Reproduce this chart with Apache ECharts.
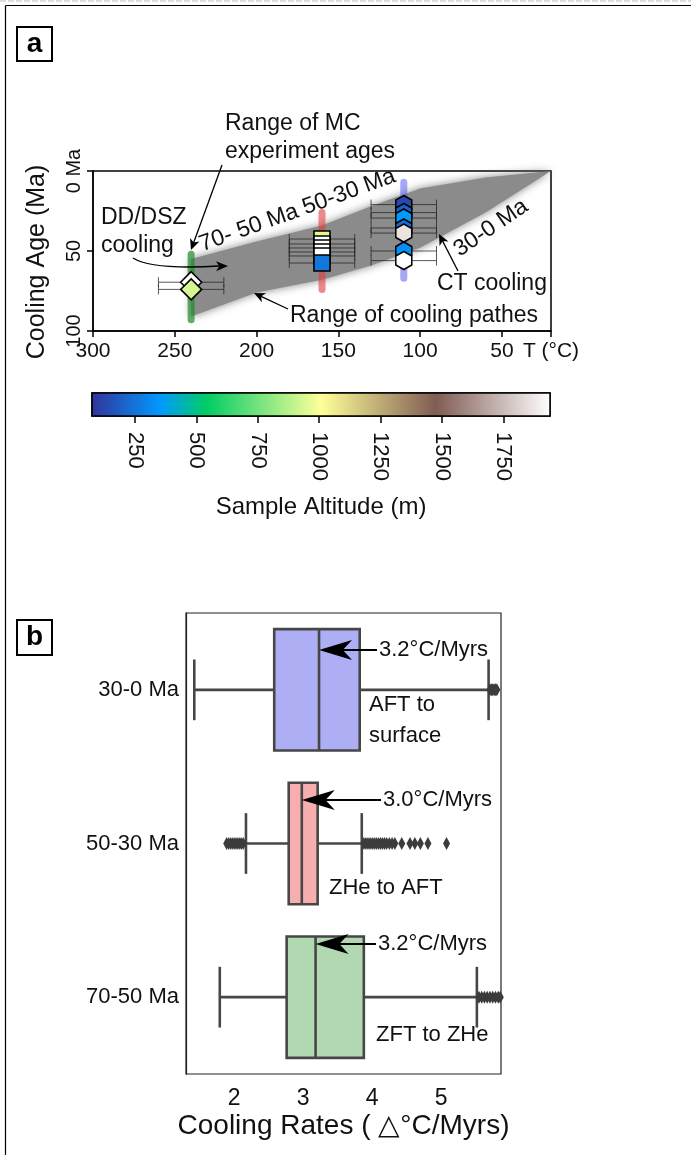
<!DOCTYPE html>
<html>
<head>
<meta charset="utf-8">
<script src="https://cdn.jsdelivr.net/npm/echarts@6/dist/echarts.min.js"></script>
<style>
  html, body { margin: 0; padding: 0; background: #fff; }
  #chart { width: 691px; height: 1155px; }
</style>
</head>
<body>
<div id="chart"></div>
<script>
// ---- panel a: range of cooling paths (T in °C, age in Ma)
const bandT = [240, 200, 160, 130, 100, 60, 20]
const bandUpper = [55, 44, 34, 22, 11, 4, 0]
const bandLower = [91, 76, 68, 59, 48, 26, 0]

// range of MC experiment ages
const mcT = [240, 160, 110]
const mcMin = [52, 26, 7]
const mcMax = [93, 74, 67]

// samples (T, cooling age, altitude)
const tErr = 20
const ddT = 240
const ddAge = [69.5, 74]
const ddAlt = [1940, 930]
const zheT = 160
const zheAge = [42.5, 45.6, 48.1, 50.6, 53.1, 57.5]
const zheAlt = [950, 1940, 1940, 1940, 1940, 262]
const aftT = 110
const aftAge = [21, 26, 29.4, 35.6, 38.8, 50, 56]
const aftAlt = [130, 200, 360, 230, 1860, 330, 1940]

const tempTicks = [20, 50, 100, 150, 200, 250, 300]
const ageTicks = [0, 50, 100]

// colour bar
const altRange = [75, 1940]
const altTicks = [250, 500, 750, 1000, 1250, 1500, 1750]

// ---- panel b: cooling rates
const periods = ['30-0 Ma', '50-30 Ma', '70-50 Ma']
const boxLow = [1.42, 2.17, 1.79]
const boxQ1 = [2.58, 2.79, 2.76]
const boxMed = [3.23, 2.98, 3.18]
const boxQ3 = [3.82, 3.21, 3.88]
const boxHigh = [5.69, 3.85, 5.52]
const outliers1 = [5.71, 5.73, 5.75, 5.77, 5.79, 5.81]
const outliers2 = [1.89, 1.92, 1.95, 1.98, 2.01, 2.04, 2.07, 2.10, 2.13, 3.88, 3.91, 3.94, 3.97,
  4.00, 4.03, 4.06, 4.09, 4.12, 4.15, 4.18, 4.21, 4.25, 4.29, 4.33, 4.43, 4.55, 4.62, 4.70, 4.81, 5.08]
const outliers3 = [5.55, 5.59, 5.63, 5.67, 5.71, 5.75, 5.79, 5.83, 5.86]
const rateTicks = [2, 3, 4, 5]

const boxColors = ['#aeaef4', '#f7aeae', '#b2d8b2']
const mcColors = ['rgba(30,140,40,0.7)', 'rgba(225,60,60,0.6)', 'rgba(80,80,240,0.5)']
const FONT = 'Liberation Sans, Arial, sans-serif'

// matplotlib "terrain" colormap
const terrainStops = [[0, [51, 51, 153]], [0.15, [0, 153, 255]], [0.25, [0, 204, 102]],
  [0.5, [255, 255, 153]], [0.75, [128, 92, 84]], [1, [255, 255, 255]]]

function terrain(alt) {
  let t = (alt - altRange[0]) / (altRange[1] - altRange[0])
  t = Math.max(0, Math.min(1, t))
  for (let i = 1; i < terrainStops.length; i++) {
    const [t0, c0] = terrainStops[i - 1]
    const [t1, c1] = terrainStops[i]
    if (t <= t1) {
      const f = (t - t0) / (t1 - t0)
      return 'rgb(' + c0.map((c, k) => Math.round(c + (c1[k] - c) * f)).join(',') + ')'
    }
  }
  return '#fff'
}

const hexPath = 'path://M0,-10L8.66,-5L8.66,5L0,10L-8.66,5L-8.66,-5Z'

const errData = []
ddAge.forEach(a => errData.push([ddT, a]))
zheAge.forEach(a => errData.push([zheT, a]))
aftAge.forEach(a => errData.push([aftT, a]))

const outlierData = []
;[outliers1, outliers2, outliers3].forEach((arr, i) => arr.forEach(v => outlierData.push([v, i])))

const chart = echarts.init(document.getElementById('chart'))

const option = {
  animation: false,
  textStyle: { fontFamily: FONT, color: '#111' },
  grid: [
    { left: 93, top: 171, width: 458, height: 160, show: true, borderColor: '#000', borderWidth: 1.5 },
    { left: 92, top: 393, width: 458, height: 23, show: true, borderColor: '#000', borderWidth: 1.5 },
    { left: 186, top: 613, width: 315, height: 461, show: true, borderColor: '#222', borderWidth: 1.2 }
  ],
  xAxis: [
    {
      gridIndex: 0, type: 'value', min: 20, max: 300, inverse: true,
      axisLine: { onZero: false, lineStyle: { color: '#000', width: 1.5 } },
      axisTick: { length: 6, customValues: tempTicks, lineStyle: { color: '#000', width: 1.5 } },
      axisLabel: { customValues: tempTicks, fontSize: 21, color: '#111', margin: 10,
        formatter: v => (v === 20 ? 'T (°C)' : String(v)) },
      splitLine: { show: false }
    },
    {
      gridIndex: 1, type: 'value', min: altRange[0], max: altRange[1],
      axisLine: { show: false },
      axisTick: { length: 7, customValues: altTicks, lineStyle: { color: '#000', width: 1.5 } },
      axisLabel: { customValues: altTicks, rotate: -90, fontSize: 22, color: '#111', margin: 16,
        formatter: v => String(v) },
      splitLine: { show: false },
      name: 'Sample Altitude (m)', nameLocation: 'middle', nameGap: 79,
      nameTextStyle: { fontSize: 24, color: '#111' }
    },
    {
      gridIndex: 2, type: 'value', min: 1.3, max: 5.87,
      axisLine: { onZero: false, lineStyle: { color: '#222', width: 1.2 } },
      axisTick: { length: 6, customValues: rateTicks, lineStyle: { color: '#222', width: 1.2 } },
      axisLabel: { customValues: rateTicks, fontSize: 23, color: '#111', margin: 13,
        formatter: v => String(v) },
      splitLine: { show: false },
      name: 'Cooling Rates ( △°C/Myrs)', nameLocation: 'middle', nameGap: 38,
      nameTextStyle: { fontSize: 28, color: '#111' }
    }
  ],
  yAxis: [
    {
      gridIndex: 0, type: 'value', min: 0, max: 100, inverse: true,
      axisLine: { onZero: false, lineStyle: { color: '#000', width: 1.5 } },
      axisTick: { length: 6, customValues: ageTicks, lineStyle: { color: '#000', width: 1.5 } },
      axisLabel: { customValues: ageTicks, rotate: 90, fontSize: 20, color: '#111', margin: 9,
        formatter: v => (v === 0 ? '0 Ma' : String(v)) },
      splitLine: { show: false },
      name: 'Cooling Age (Ma)', nameLocation: 'middle', nameGap: 43,
      nameTextStyle: { fontSize: 25, color: '#111', padding: [0, 22, 0, 0] }
    },
    { gridIndex: 1, type: 'value', min: 0, max: 1, show: false },
    {
      gridIndex: 2, type: 'category', data: periods, inverse: true,
      axisLine: { lineStyle: { color: '#222', width: 1.2 } },
      axisTick: { show: false },
      axisLabel: { fontSize: 22, color: '#111', margin: 7 }
    }
  ],
  series: [
    { // range of cooling paths
      type: 'custom', xAxisIndex: 0, yAxisIndex: 0, z: 1,
      encode: { x: 0, y: [1, 2] },
      data: bandT.map((t, i) => [t, bandUpper[i], bandLower[i]]),
      renderItem: function (params, api) {
        if (params.dataIndex !== 0) return null
        const up = bandT.map((t, i) => api.coord([t, bandUpper[i]]))
        const lo = bandT.map((t, i) => api.coord([t, bandLower[i]])).reverse()
        return {
          type: 'polygon',
          shape: { points: up.concat(lo) },
          style: { fill: '#8b8b8b', shadowBlur: 9, shadowColor: 'rgba(120,120,120,0.9)' }
        }
      }
    },
    { // MC experiment age ranges
      type: 'custom', xAxisIndex: 0, yAxisIndex: 0, z: 2,
      encode: { x: 0, y: [1, 2] },
      data: mcT.map((t, i) => [t, mcMin[i], mcMax[i]]),
      renderItem: function (params, api) {
        const a = api.coord([api.value(0), api.value(1)])
        const b = api.coord([api.value(0), api.value(2)])
        return {
          type: 'line',
          shape: { x1: a[0], y1: a[1], x2: b[0], y2: b[1] },
          style: { stroke: mcColors[params.dataIndex], lineWidth: 7, lineCap: 'round' }
        }
      }
    },
    { // temperature error bars
      type: 'custom', xAxisIndex: 0, yAxisIndex: 0, z: 3,
      encode: { x: 0, y: 1 },
      data: errData,
      renderItem: function (params, api) {
        const a = api.coord([api.value(0) + tErr, api.value(1)])
        const b = api.coord([api.value(0) - tErr, api.value(1)])
        const st = { stroke: 'rgba(35,35,35,0.75)', lineWidth: 1 }
        return {
          type: 'group',
          children: [
            { type: 'line', shape: { x1: a[0], y1: a[1], x2: b[0], y2: b[1] }, style: st },
            { type: 'line', shape: { x1: a[0], y1: a[1] - 5, x2: a[0], y2: a[1] + 5 }, style: st },
            { type: 'line', shape: { x1: b[0], y1: b[1] - 5, x2: b[0], y2: b[1] + 5 }, style: st }
          ]
        }
      }
    },
    {
      type: 'scatter', xAxisIndex: 0, yAxisIndex: 0, z: 4,
      symbol: 'diamond', symbolSize: 21,
      data: ddAge.map((a, i) => [ddT, a, ddAlt[i]]),
      itemStyle: { color: p => terrain(p.value[2]), borderColor: '#000', borderWidth: 1.6, opacity: 1 }
    },
    {
      type: 'scatter', xAxisIndex: 0, yAxisIndex: 0, z: 4,
      symbol: 'rect', symbolSize: 16,
      data: zheAge.map((a, i) => [zheT, a, zheAlt[i]]),
      itemStyle: { color: p => terrain(p.value[2]), borderColor: '#000', borderWidth: 1.6, opacity: 1 }
    },
    {
      type: 'scatter', xAxisIndex: 0, yAxisIndex: 0, z: 4,
      symbol: hexPath, symbolSize: [16, 18],
      data: aftAge.map((a, i) => [aftT, a, aftAlt[i]]),
      itemStyle: { color: p => terrain(p.value[2]), borderColor: '#000', borderWidth: 1.6, opacity: 1 }
    },
    { // colour bar
      type: 'custom', xAxisIndex: 1, yAxisIndex: 1,
      encode: { x: [0, 1] },
      data: [[altRange[0], altRange[1]]],
      renderItem: function (params, api) {
        const a = api.coord([api.value(0), 0])
        const b = api.coord([api.value(1), 1])
        return {
          type: 'rect',
          shape: { x: a[0], y: b[1], width: b[0] - a[0], height: a[1] - b[1] },
          style: {
            fill: new echarts.graphic.LinearGradient(0, 0, 1, 0,
              terrainStops.map(s => ({ offset: s[0], color: 'rgb(' + s[1].join(',') + ')' }))),
            stroke: '#000', lineWidth: 1.5
          }
        }
      }
    },
    { // box plots
      type: 'custom', xAxisIndex: 2, yAxisIndex: 2, z: 2,
      encode: { x: [1, 2, 3, 4, 5], y: 0 },
      data: periods.map((p, i) => [i, boxLow[i], boxQ1[i], boxMed[i], boxQ3[i], boxHigh[i]]),
      renderItem: function (params, api) {
        const cat = api.value(0)
        const yc = api.coord([api.value(3), cat])[1]
        const h = api.size([0, 1])[1] * 0.79
        const x = k => api.coord([api.value(k), cat])[0]
        const lo = x(1), q1 = x(2), md = x(3), q3 = x(4), hi = x(5)
        const st = { stroke: '#464646', lineWidth: 2.6 }
        return {
          type: 'group',
          children: [
            { type: 'line', shape: { x1: lo, y1: yc, x2: q1, y2: yc }, style: st },
            { type: 'line', shape: { x1: q3, y1: yc, x2: hi, y2: yc }, style: st },
            { type: 'line', shape: { x1: lo, y1: yc - h / 4, x2: lo, y2: yc + h / 4 }, style: st },
            { type: 'line', shape: { x1: hi, y1: yc - h / 4, x2: hi, y2: yc + h / 4 }, style: st },
            { type: 'rect', shape: { x: q1, y: yc - h / 2, width: q3 - q1, height: h },
              style: { fill: boxColors[params.dataIndex], stroke: '#464646', lineWidth: 2.6 } },
            { type: 'line', shape: { x1: md, y1: yc - h / 2, x2: md, y2: yc + h / 2 }, style: st }
          ]
        }
      }
    },
    {
      type: 'scatter', xAxisIndex: 2, yAxisIndex: 2, z: 3,
      symbol: 'diamond', symbolSize: [7, 13],
      data: outlierData,
      itemStyle: { color: '#3c3c3c', opacity: 1 }
    }
  ]
}

chart.setOption(option)

// ---- annotations
function txt(x, y, text, size, extra) {
  return Object.assign({
    type: 'text', x: x, y: y, z: 100,
    style: { text: text, font: size + 'px ' + FONT, fill: '#111', align: 'left', verticalAlign: 'middle' }
  }, extra || {})
}

function rtxt(x, y, text, rot) {
  return {
    type: 'text', x: x, y: y, z: 100, rotation: rot,
    style: { text: text, font: '23px ' + FONT, fill: '#111', align: 'center', verticalAlign: 'middle' }
  }
}

function head(tx, ty, fx, fy, len, hw) {
  const L = Math.hypot(tx - fx, ty - fy)
  const ux = (tx - fx) / L, uy = (ty - fy) / L
  const bx = tx - ux * len, by = ty - uy * len
  const nx = -uy, ny = ux
  return {
    type: 'polygon', z: 100,
    shape: { points: [[tx, ty], [bx + nx * hw, by + ny * hw], [tx - ux * len * 0.72, ty - uy * len * 0.72], [bx - nx * hw, by - ny * hw]] },
    style: { fill: '#000' }
  }
}

function arrow(x1, y1, x2, y2, len, hw, lw) {
  const L = Math.hypot(x2 - x1, y2 - y1)
  const ux = (x2 - x1) / L, uy = (y2 - y1) / L
  return [
    { type: 'line', z: 100, shape: { x1: x1, y1: y1, x2: x2 - ux * len * 0.6, y2: y2 - uy * len * 0.6 },
      style: { stroke: '#000', lineWidth: lw } },
    head(x2, y2, x1, y1, len, hw)
  ]
}

const medX = i => chart.convertToPixel({ gridIndex: 2 }, [boxMed[i], i])[0]

const elements = [
  // frame
  { type: 'line', shape: { x1: 5.5, y1: 5.5, x2: 691, y2: 5.5 }, style: { stroke: '#000', lineWidth: 1.2 } },
  { type: 'line', shape: { x1: 5.5, y1: 5.5, x2: 5.5, y2: 1155 }, style: { stroke: '#000', lineWidth: 1.2 } },
  { type: 'line', shape: { x1: 0, y1: 1, x2: 691, y2: 1 }, style: { stroke: '#bbb', lineWidth: 1, lineDash: [6, 2] } },
  // panel letters
  { type: 'rect', shape: { x: 17, y: 27, width: 35, height: 34 }, style: { fill: '#fff', stroke: '#000', lineWidth: 2 } },
  { type: 'text', x: 34.5, y: 44, z: 100, style: { text: 'a', font: 'bold 28px ' + FONT, fill: '#000', align: 'center', verticalAlign: 'middle' } },
  { type: 'rect', shape: { x: 17, y: 620, width: 35, height: 35 }, style: { fill: '#fff', stroke: '#000', lineWidth: 2 } },
  { type: 'text', x: 34.5, y: 637, z: 100, style: { text: 'b', font: 'bold 28px ' + FONT, fill: '#000', align: 'center', verticalAlign: 'middle' } },

  // panel a
  txt(225, 124, 'Range of MC', 23),
  txt(225, 152, 'experiment ages', 23),
  ...arrow(222, 165, 191, 250, 11, 5, 1.3),
  txt(101, 218, 'DD/DSZ', 23),
  txt(101, 246, 'cooling', 23),
  { type: 'bezierCurve', z: 100, shape: { x1: 133, y1: 258, cpx1: 152, cpy1: 270, x2: 219, y2: 266 },
    style: { stroke: '#000', lineWidth: 1.3, fill: null } },
  head(228, 266, 160, 267, 12, 5),
  rtxt(249, 228, '70- 50 Ma', 0.34),
  rtxt(349, 192, '50-30 Ma', 0.35),
  rtxt(491, 228, '30-0 Ma', 0.6),
  txt(437, 284, 'CT cooling', 23),
  ...arrow(458, 271, 439, 234, 11, 5, 1.3),
  txt(290, 316, 'Range of cooling pathes', 23),
  ...arrow(288, 309, 254, 293, 11, 5, 1.3),

  // panel b
  ...arrow(377, 650, medX(0), 650, 33, 10, 2.2),
  txt(379, 650, '3.2°C/Myrs', 22),
  txt(369, 705, 'AFT to', 22),
  txt(369, 736, 'surface', 22),
  ...arrow(381, 800, medX(1), 800, 33, 10, 2.2),
  txt(383, 800, '3.0°C/Myrs', 22),
  txt(329, 888, 'ZHe to AFT', 22),
  ...arrow(376, 944, medX(2), 944, 33, 10, 2.2),
  txt(378, 944, '3.2°C/Myrs', 22),
  txt(376, 1035, 'ZFT to ZHe', 22)
]

chart.setOption({ graphic: { elements: elements } })
</script>
</body>
</html>
